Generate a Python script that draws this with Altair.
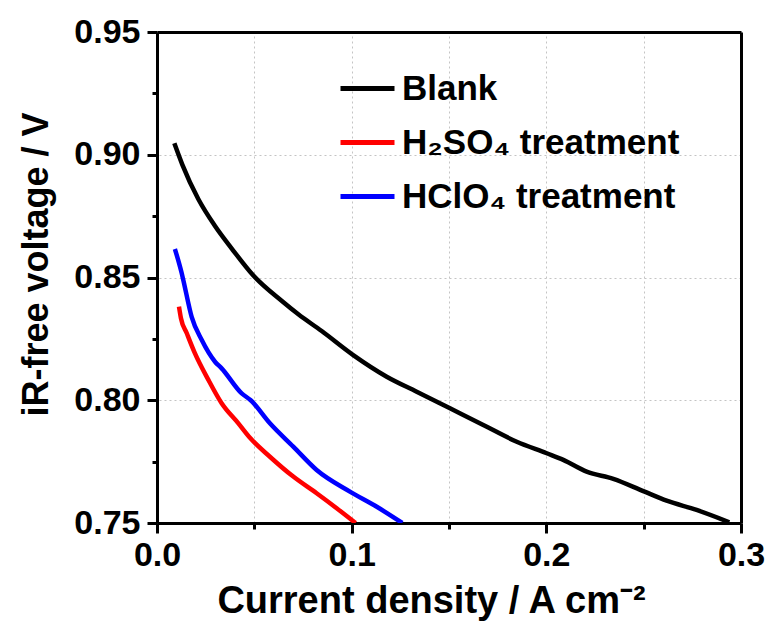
import altair as alt
import pandas as pd

# Blank
blank_x = [0.0089, 0.0130, 0.0212, 0.0298, 0.0384, 0.0495, 0.0640, 0.0726, 0.0846,
           0.1008, 0.1180, 0.1334, 0.1505, 0.1676, 0.1848, 0.2002, 0.2087, 0.2207, 0.2344,
           0.2498, 0.2618, 0.2772, 0.2940]
blank_y = [0.9047, 0.8960, 0.8820, 0.8710, 0.8618, 0.8508, 0.8405, 0.8350, 0.8282,
           0.8184, 0.8096, 0.8035, 0.7967, 0.7899, 0.7831, 0.7784, 0.7757, 0.7709, 0.7680,
           0.7630, 0.7591, 0.7553, 0.7503]
# H2SO4 treatment
h2so4_x = [0.0113, 0.0123, 0.0153, 0.0195, 0.0264, 0.0332, 0.0418, 0.0480, 0.0580, 0.0700,
           0.0820, 0.0923, 0.1020]
h2so4_y = [0.8381, 0.8334, 0.8273, 0.8191, 0.8083, 0.7988, 0.7906, 0.7845, 0.7770, 0.7689,
           0.7621, 0.7560, 0.7500]
# HClO4 treatment
hclo4_x = [0.0092, 0.0127, 0.0135, 0.0178, 0.0230, 0.0298, 0.0332, 0.0435, 0.0480, 0.0580,
           0.0700, 0.0820, 0.0991, 0.1129, 0.1260]
hclo4_y = [0.8616, 0.8517, 0.8490, 0.8340, 0.8245, 0.8157, 0.8130, 0.8028, 0.8001, 0.7906,
           0.7811, 0.7716, 0.7628, 0.7566, 0.7500]

series_names = ["Blank", "H\u2082SO\u2084 treatment", "HClO\u2084 treatment"]
series_colors = ["#000000", "#ff0000", "#0000ff"]

x_major = [0.0, 0.1, 0.2, 0.3]
x_minor = [0.05, 0.15, 0.25]
x_grid = [0.05, 0.10, 0.15, 0.20, 0.25]
y_major = [0.75, 0.80, 0.85, 0.90, 0.95]
y_minor = [0.775, 0.825, 0.875, 0.925]
y_grid = [0.80, 0.85, 0.90]

rows = []
for name, xs, ys in zip(series_names, [blank_x, h2so4_x, hclo4_x], [blank_y, h2so4_y, hclo4_y]):
    for i, (a, b) in enumerate(zip(xs, ys)):
        rows.append({"series": name, "order": i, "x": a, "y": b})
df = pd.DataFrame(rows)

FONT = "Liberation Sans"
xscale = alt.Scale(domain=[0, 0.3], nice=False, zero=False)
yscale = alt.Scale(domain=[0.75, 0.95], nice=False, zero=False)

grid_style = dict(gridColor="#c4c4c4", gridDash=[2, 3], gridWidth=1)
frame = dict(domain=True, domainColor="black", domainWidth=3)

# invisible layer carrying the dotted grid and the top/right frame lines
grid_layer = alt.Chart(df).mark_point(opacity=0).encode(
    x=alt.X("x:Q", scale=xscale,
            axis=alt.Axis(orient="top", values=x_grid, labels=False, ticks=False, title=None,
                          grid=True, offset=0, **grid_style, **frame)),
    y=alt.Y("y:Q", scale=yscale,
            axis=alt.Axis(orient="right", values=y_grid, labels=False, ticks=False, title=None,
                          grid=True, offset=0, **grid_style, **frame)),
)

# invisible layer carrying the short minor ticks
minor = alt.Chart(df).mark_point(opacity=0).encode(
    x=alt.X("x:Q", scale=xscale,
            axis=alt.Axis(orient="bottom", values=x_minor, labels=False, title=None, offset=0,
                          tickSize=6, tickWidth=3, tickColor="black", domain=False, grid=False)),
    y=alt.Y("y:Q", scale=yscale,
            axis=alt.Axis(orient="left", values=y_minor, labels=False, title=None, offset=0,
                          tickSize=5, tickWidth=3, tickColor="black", domain=False, grid=False)),
)

lines = alt.Chart(df).mark_line(strokeWidth=4.5, clip=True, interpolate="monotone").encode(
    x=alt.X("x:Q", scale=xscale,
            axis=alt.Axis(orient="bottom", values=x_major, format=".1f", title="Current density / A cm\u207b\u00b2",
                          labelFont=FONT, labelFontSize=34, labelFontWeight="bold", labelColor="black",
                          labelPadding=5, labelFlush=False, labelOverlap=False,
                          tickSize=10, tickWidth=3, tickColor="black", offset=0,
                          titleFont=FONT, titleFontSize=38, titleFontWeight="bold", titleColor="black",
                          titlePadding=10, titleX=274, grid=False, **frame)),
    y=alt.Y("y:Q", scale=yscale,
            axis=alt.Axis(orient="left", values=y_major, format=".2f", title="iR-free voltage / V",
                          labelFont=FONT, labelFontSize=34, labelFontWeight="bold", labelColor="black",
                          labelPadding=7, labelFlush=False, labelOverlap=False,
                          tickSize=10, tickWidth=3, tickColor="black", offset=0,
                          titleFont=FONT, titleFontSize=36, titleFontWeight="bold", titleColor="black",
                          titlePadding=18, titleY=232, grid=False, **frame)),
    color=alt.Color("series:N", scale=alt.Scale(domain=series_names, range=series_colors),
                    legend=alt.Legend(title=None, orient="none", legendX=181, legendY=27,
                                      labelFont=FONT, labelFontSize=35, labelFontWeight="bold",
                                      labelColor="black", labelLimit=500, labelOffset=5,
                                      symbolType="stroke", symbolSize=2916, symbolStrokeWidth=5,
                                      rowPadding=6, padding=0)),
    order="order:Q",
)

chart = alt.layer(grid_layer, minor, lines).resolve_axis(x="independent", y="independent").properties(
    width=584, height=491,
    padding={"left": 157, "top": 32, "right": 29, "bottom": 103},
    autosize=alt.AutoSizeParams(type="none"),
    background="white",
).configure_view(stroke=None)

chart.save("out.html", embed_options={"renderer": "svg", "actions": False})
